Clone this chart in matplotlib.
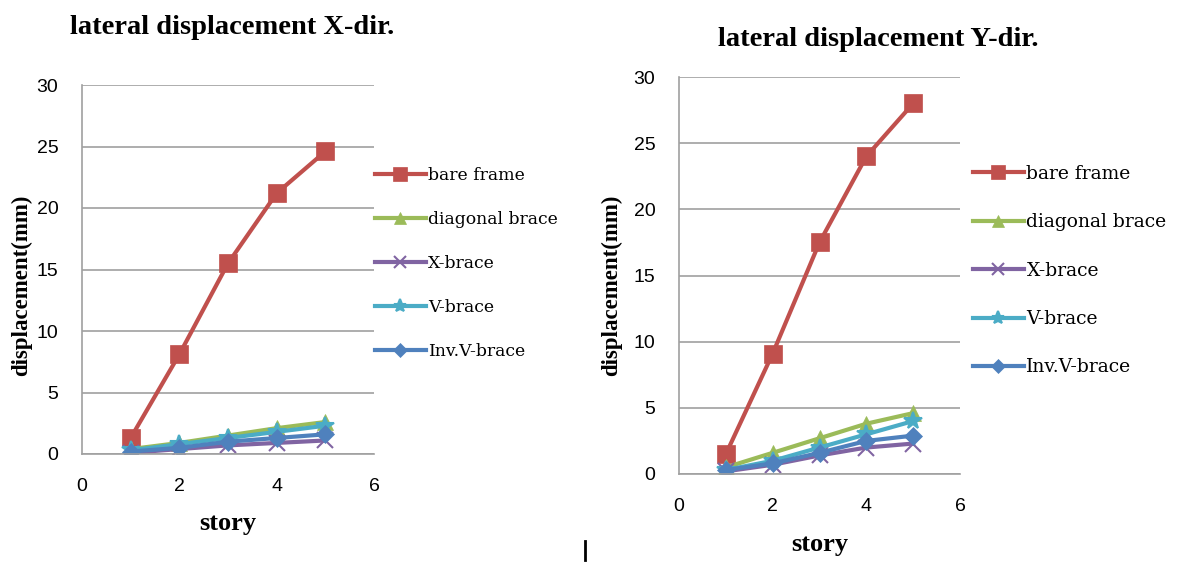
import numpy as np
import matplotlib
matplotlib.use("Agg")
import matplotlib.pyplot as plt
from matplotlib.lines import Line2D

# Datos
story = [1, 2, 3, 4, 5]
labels = ["bare frame", "diagonal brace", "X-brace", "V-brace", "Inv.V-brace"]

disp_x = {
    "bare frame": [1.3, 8.1, 15.5, 21.2, 24.6],
    "diagonal brace": [0.4, 0.9, 1.5, 2.1, 2.6],
    "X-brace": [0.1, 0.4, 0.7, 0.9, 1.1],
    "V-brace": [0.3, 0.8, 1.3, 1.8, 2.3],
    "Inv.V-brace": [0.2, 0.5, 1.0, 1.3, 1.6],
}
disp_y = {
    "bare frame": [1.5, 9.1, 17.5, 24.0, 28.0],
    "diagonal brace": [0.5, 1.6, 2.7, 3.8, 4.6],
    "X-brace": [0.2, 0.7, 1.4, 2.0, 2.3],
    "V-brace": [0.3, 1.0, 2.0, 3.0, 4.0],
    "Inv.V-brace": [0.3, 0.8, 1.6, 2.5, 2.9],
}

colors = ["#C0504D", "#9BBB59", "#8064A2", "#4BACC6", "#4F81BD"]
markers = ["s", "^", "x", "*", "D"]
msizes = [13, 11, 11, 13, 9]

serif = "Liberation Serif"
sans = "Liberation Sans"

fig = plt.figure(figsize=(11.84, 5.63), dpi=100)


def draw(rect, data, title, title_xy, legend_xy, spacing, leg_size, lab_xy):
    ax = fig.add_axes(rect)
    for lab, c, m, ms in zip(labels, colors, markers, msizes):
        ax.plot(story, data[lab], color=c, lw=3, marker=m, markersize=ms,
                markeredgewidth=1.5 if m in ("x", "*") else 0.5,
                markeredgecolor=c, label=lab)
    ax.set_xlim(0, 6)
    ax.set_ylim(0, 30)
    ax.set_xticks([0, 2, 4, 6])
    ax.set_yticks(np.arange(0, 31, 5))
    ax.grid(axis="y", color="#A0A0A0", lw=1.2)
    ax.set_axisbelow(True)
    for s in ["top", "right"]:
        ax.spines[s].set_visible(False)
    for s in ["left", "bottom"]:
        ax.spines[s].set_color("#A0A0A0")
        ax.spines[s].set_linewidth(1.2)
    ax.tick_params(length=0, labelsize=14, pad=17)
    for t in ax.get_xticklabels() + ax.get_yticklabels():
        t.set_fontfamily(sans)
    ax.set_xlabel("story", fontfamily=serif, fontweight="bold", fontsize=19)
    ax.set_ylabel("displacement(mm)", fontfamily=serif, fontweight="bold", fontsize=16.5)
    ax.xaxis.set_label_coords(*lab_xy[0], transform=fig.transFigure)
    ax.yaxis.set_label_coords(*lab_xy[1], transform=fig.transFigure)
    fig.text(title_xy[0], title_xy[1], title, fontfamily=serif, fontweight="bold",
             fontsize=20.5, ha="left", va="center")
    ax.legend(loc="upper left", bbox_to_anchor=legend_xy, bbox_transform=fig.transFigure,
              frameon=False, prop={"family": "DejaVu Serif", "size": leg_size},
              handlelength=2.7 * 13.5 / leg_size, handletextpad=0.15, labelspacing=spacing,
              borderpad=0, borderaxespad=0, markerscale=0.75)
    return ax


draw([82 / 1184, 1 - 454 / 563, 292 / 1184, 369 / 563], disp_x,
     "lateral displacement X-dir.", (70 / 1184, 1 - 27 / 563),
     (375 / 1184, 1 - 167 / 563), 1.57, 12.4,
     ((228 / 1184, 1 - 512 / 563), (32 / 1184, 1 - 285 / 563)))
draw([679 / 1184, 1 - 474 / 563, 281 / 1184, 397 / 563], disp_y,
     "lateral displacement Y-dir.", (718 / 1184, 1 - 39 / 563),
     (973 / 1184, 1 - 165 / 563), 1.62, 13.5,
     ((820 / 1184, 1 - 533 / 563), (622 / 1184, 1 - 285 / 563)))

# pequeña marca vertical
fig.add_artist(Line2D([585 / 1184, 585 / 1184], [1 - 541 / 563, 1 - 560 / 563],
                      color="black", lw=2))

fig.savefig("out.png", dpi=100)
